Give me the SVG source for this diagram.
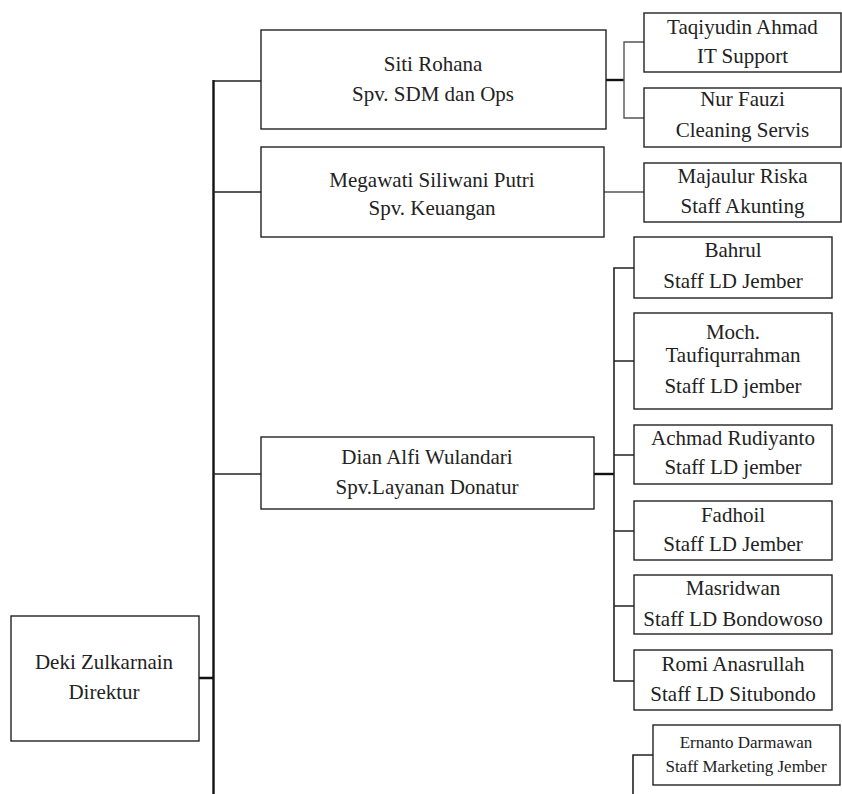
<svg xmlns="http://www.w3.org/2000/svg" width="842" height="794" viewBox="0 0 842 794">
<style>
rect.box{fill:#fff;stroke:#222;stroke-width:1.4}
text{font-family:"Liberation Serif","Times New Roman",serif;font-size:21px;fill:#222;text-anchor:middle}
text.sm{font-size:17px}
.ln{stroke:#222;stroke-width:1.6;fill:none}
.thk{stroke:#111;stroke-width:2.4;fill:none}
.gr{stroke:#555;stroke-width:1.4;fill:none}
</style>
<rect width="842" height="794" fill="#fff"/>
<g id="connectors">
<line class="thk" x1="213.5" y1="80" x2="213.5" y2="794"/>
<line class="ln" x1="213" y1="81" x2="261" y2="81"/>
<line class="ln" x1="213" y1="192" x2="261" y2="192"/>
<line class="ln" x1="213" y1="474" x2="261" y2="474"/>
<line class="thk" x1="166" y1="678" x2="213" y2="678"/>
<line class="thk" x1="606" y1="80" x2="624" y2="80"/>
<path class="gr" d="M644 42H624V118H644"/>
<line class="gr" x1="604" y1="192" x2="644" y2="192"/>
<line class="thk" x1="594" y1="474" x2="614" y2="474"/>
<path class="ln" d="M634 268H614V681H634M614 361H634M614 455H634M614 531H634M614 606H634"/>
<path class="ln" d="M653 755H633V794"/>
</g>
<g id="deki"><rect class="box" x="11" y="616" width="188" height="125"/><text x="104" y="669">Deki Zulkarnain</text><text x="104" y="699">Direktur</text></g>
<g id="siti"><rect class="box" x="261" y="30" width="345" height="99"/><text x="433" y="71">Siti Rohana</text><text x="433" y="101">Spv. SDM dan Ops</text></g>
<g id="megawati"><rect class="box" x="261" y="147" width="343" height="90"/><text x="432" y="187">Megawati Siliwani Putri</text><text x="432" y="215">Spv. Keuangan</text></g>
<g id="dian"><rect class="box" x="261" y="437" width="333" height="72"/><text x="427" y="464">Dian Alfi Wulandari</text><text x="427" y="494">Spv.Layanan Donatur</text></g>
<g id="taqiyudin"><rect class="box" x="644" y="13" width="197" height="59"/><text x="742.5" y="34">Taqiyudin Ahmad</text><text x="742.5" y="63">IT Support</text></g>
<g id="nurfauzi"><rect class="box" x="644" y="88" width="197" height="59"/><text x="742.5" y="106">Nur Fauzi</text><text x="742.5" y="137">Cleaning Servis</text></g>
<g id="majaulur"><rect class="box" x="644" y="163" width="197" height="59"/><text x="742.5" y="183">Majaulur Riska</text><text x="742.5" y="213">Staff Akunting</text></g>
<g id="bahrul"><rect class="box" x="634" y="237" width="198" height="61"/><text x="733" y="257">Bahrul</text><text x="733" y="288">Staff LD Jember</text></g>
<g id="moch"><rect class="box" x="634" y="313" width="198" height="96"/><text x="733" y="339">Moch.</text><text x="733" y="362">Taufiqurrahman</text><text x="733" y="393">Staff LD jember</text></g>
<g id="achmad"><rect class="box" x="634" y="425" width="198" height="59"/><text x="733" y="445">Achmad Rudiyanto</text><text x="733" y="474">Staff LD jember</text></g>
<g id="fadhoil"><rect class="box" x="634" y="501" width="198" height="59"/><text x="733" y="522">Fadhoil</text><text x="733" y="551">Staff LD Jember</text></g>
<g id="masridwan"><rect class="box" x="634" y="575" width="198" height="59"/><text x="733" y="595">Masridwan</text><text x="733" y="626">Staff LD Bondowoso</text></g>
<g id="romi"><rect class="box" x="634" y="650" width="198" height="60"/><text x="733" y="671">Romi Anasrullah</text><text x="733" y="701">Staff LD Situbondo</text></g>
<g id="ernanto"><rect class="box" x="653" y="725" width="187" height="60"/><text class="sm" x="746" y="748">Ernanto Darmawan</text><text class="sm" x="746" y="772">Staff Marketing Jember</text></g>
</svg>
